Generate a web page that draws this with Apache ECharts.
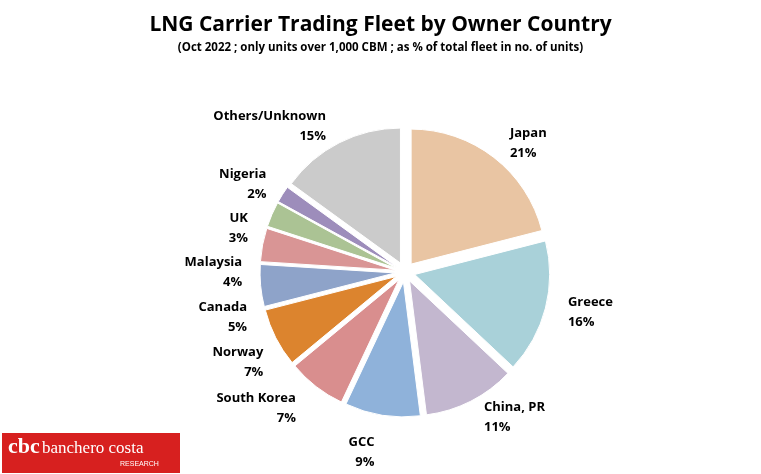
<!DOCTYPE html>
<html><head><meta charset="utf-8">
<script src="https://cdn.jsdelivr.net/npm/echarts@6/dist/echarts.min.js"></script>
<style>html,body{margin:0;padding:0;background:#fff}#c{width:761px;height:474px}</style>
</head><body><div id="c"></div>
<script>
const categories = ['Japan','Greece','China, PR','GCC','South Korea','Norway','Canada','Malaysia','UK','Nigeria','Others/Unknown'];
const values = [21,16,11,9,7,7,5,4,3,2,15];
const colors = ['#e9c5a3','#a9d1d9','#c3b7cf','#8fb2da','#d98e8e','#dc842e','#8ea3c9','#d99595','#abc394','#9d8dbb','#cbcbcb'];
const chart = echarts.init(document.getElementById('c'));
chart.setOption({
  animation:false,
  title:{text:'LNG Carrier Trading Fleet by Owner Country',
    subtext:'(Oct 2022 ; only units over 1,000 CBM ; as % of total fleet in no. of units)',
    left:'center',top:10,itemGap:6,
    textStyle:{fontFamily:'Open Sans',fontWeight:'bold',fontSize:21,color:'#000'},
    subtextStyle:{fontFamily:'Open Sans',fontWeight:'bold',fontSize:11.5,color:'#000'}},
  series:[{type:'pie',center:[405,272],radius:[0,135],startAngle:90,clockwise:true,
    selectedMode:'multiple',selectedOffset:10,
    data:categories.map((n,i)=>({name:n,value:values[i],selected:true,itemStyle:{color:colors[i]}})),
    itemStyle:{borderColor:'#fff',borderWidth:1},
    label:{show:true,position:'outside',formatter:p=>p.name+'\n'+p.value+'%',
      fontFamily:'Open Sans',fontWeight:'bold',fontSize:13,color:'#000',lineHeight:20,align:'center'},
    labelLine:{show:false,length:18,length2:0}}],
  graphic:[
    {type:'rect',left:2,top:433,shape:{width:178,height:40},style:{fill:'#d7201f'}},
    {type:'text',left:42,top:440,style:{text:'banchero costa',fill:'#fff',font:'17px "Liberation Serif"'}},
    {type:'text',left:120,top:461,style:{text:'RESEARCH',fill:'#fff',font:'7px "Liberation Sans"'}},
    {type:'text',left:8,top:436,style:{text:'cbc',fill:'#fff',font:'bold 22px "Liberation Serif"'}}
  ]
});
</script></body></html>
